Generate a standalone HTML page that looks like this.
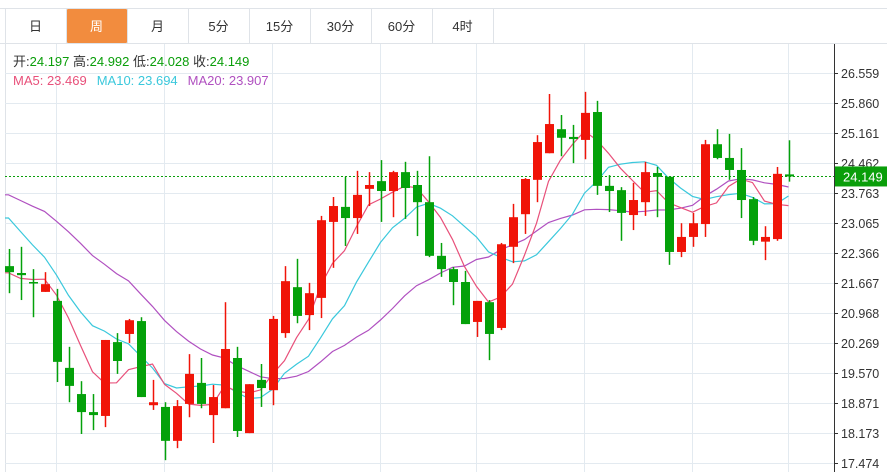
<!DOCTYPE html>
<html><head><meta charset="utf-8">
<style>
html,body{margin:0;padding:0;background:#fff;width:887px;height:472px;overflow:hidden;font-family:"Liberation Sans","Noto Sans CJK SC",sans-serif;}
svg text{font-family:"Liberation Sans","Noto Sans CJK SC",sans-serif;}
</style></head><body>
<svg id="chart" width="887" height="472" xmlns="http://www.w3.org/2000/svg">
  <g id="tabs"></g>
  <g id="grid"></g>
  <g id="mas"></g>
  <g id="candles"></g>
  <g id="axis"></g>
  <g id="legend">
    <text x="13" y="66" font-size="13" fill="#333">开:<tspan fill="#0a9e0a">24.197</tspan>  高:<tspan fill="#0a9e0a">24.992</tspan>  低:<tspan fill="#0a9e0a">24.028</tspan>  收:<tspan fill="#0a9e0a">24.149</tspan></text>
    <text x="13" y="85" font-size="13"><tspan fill="#e8507a">MA5: 23.469</tspan><tspan fill="#3ac8dc" dx="10">MA10: 23.694</tspan><tspan fill="#b050c0" dx="10">MA20: 23.907</tspan></text>
  </g>
</svg>
<script>
const opens=[22.06,21.90,21.69,21.46,21.25,19.69,19.08,18.66,18.57,20.29,20.48,20.78,18.82,18.78,17.99,18.85,19.34,18.59,18.75,19.92,18.17,19.41,19.17,20.50,21.57,20.92,21.32,23.09,23.44,23.18,23.86,24.04,23.81,24.25,23.95,23.55,22.30,21.99,21.69,20.76,21.22,20.62,22.51,23.27,24.07,24.69,25.25,25.07,25.00,25.65,23.93,23.83,23.25,23.55,24.23,24.14,22.39,22.74,23.04,24.90,24.58,24.30,23.62,22.63,22.69,24.197];
const highs=[22.46,22.51,21.99,21.92,21.53,20.18,19.38,19.08,20.34,20.50,20.83,20.87,19.41,18.89,18.94,20.01,19.92,19.29,21.22,20.18,19.31,19.78,20.90,22.06,22.23,21.67,23.23,23.67,24.14,24.28,24.25,24.53,24.28,24.49,24.28,24.62,22.60,22.04,21.95,21.25,21.27,22.60,23.51,24.11,25.11,26.07,25.58,25.35,26.12,25.91,24.18,23.90,24.00,24.49,24.37,24.14,23.06,23.30,25.00,25.25,25.14,24.81,23.67,22.99,24.37,24.992];
const lows=[21.43,21.27,20.87,21.46,19.36,18.89,18.15,18.24,18.31,19.55,20.27,19.01,18.71,17.54,17.82,18.54,18.75,17.94,18.75,18.08,18.17,18.78,18.82,20.39,20.73,20.57,20.85,22.02,22.53,22.81,23.46,23.09,23.20,23.16,22.76,22.27,21.81,21.15,20.71,20.41,19.87,20.57,22.13,22.81,23.55,24.69,24.62,24.46,24.55,23.72,23.32,22.65,22.90,23.23,23.20,22.09,22.27,22.51,22.74,24.55,24.07,23.18,22.55,22.20,22.65,24.028];
const closes=[21.92,21.85,21.67,21.64,19.83,19.27,18.66,18.59,20.34,19.85,20.80,19.01,18.89,17.99,18.80,19.55,18.85,19.01,20.13,18.22,19.31,19.22,20.83,21.71,20.90,21.43,23.13,23.46,23.18,23.72,23.95,23.81,24.25,23.88,23.55,22.30,21.99,21.69,20.71,21.25,20.48,22.57,23.20,24.09,24.95,25.37,25.05,25.02,25.63,23.93,23.81,23.30,23.60,24.25,24.14,22.39,22.74,23.06,24.90,24.58,24.30,23.60,22.65,22.74,24.21,24.149];
const priorCloses=[24.5,24.3,24.1,24.4,24.2,24.0,24.3,24.4,24.2,24.2,25.0,24.8,24.5,24.0,24.0,22.5,21.8,21.6,21.7];
const yTicks=[26.559,25.860,25.161,24.462,23.763,23.065,22.366,21.667,20.968,20.269,19.570,18.871,18.173,17.474];
const tabLabels=["日","周","月","5分","15分","30分","60分","4时"];
const lastPrice=24.149;

const NS="http://www.w3.org/2000/svg";
function el(tag,attrs,parent){const e=document.createElementNS(NS,tag);for(const k in attrs)e.setAttribute(k,attrs[k]);parent.appendChild(e);return e;}
const yTop=26.559,yBot=17.474,pxTop=73,pxBot=463;
function y(v){return pxTop+(yTop-v)/(yTop-yBot)*(pxBot-pxTop);}
function x(i){return 8.5+12*i;}

// tabs
const tabs=document.getElementById('tabs');
el('line',{x1:0,y1:8.5,x2:887,y2:8.5,stroke:'#dfe3e8'},tabs);
el('line',{x1:0,y1:43.5,x2:887,y2:43.5,stroke:'#dfe3e8'},tabs);
tabLabels.forEach((t,i)=>{
  const tx=5+61*i;
  const g=el('g',{},tabs);
  
  
  if(i===1) el('rect',{x:tx+1,y:9,width:60,height:34,fill:'#f28c3e',rx:1},g);
  el('line',{x1:tx+0.5,y1:9,x2:tx+0.5,y2:43,stroke:'#dfe3e8'},g);
  const te=el('text',{x:tx+30.5,y:31,'text-anchor':'middle','font-size':13,fill:i===1?'#fff':'#333'},g);
  te.textContent=t;
});
el('line',{x1:493.5,y1:9,x2:493.5,y2:43,stroke:'#dfe3e8'},tabs);

// grid
const grid=document.getElementById('grid');
el('line',{x1:5.5,y1:44,x2:5.5,y2:472,stroke:'#dfe3e8'},grid);
yTicks.forEach(v=>{const yy=Math.round(y(v))+0.5;el('line',{x1:5,y1:yy,x2:834,y2:yy,stroke:'#e3eaf0'},grid);});
[56,164,272,380,476,584,692,788].forEach(gx=>el('line',{x1:gx+0.5,y1:44,x2:gx+0.5,y2:472,stroke:'#e3eaf0'},grid));

// MAs
const all=priorCloses.concat(closes);
function ma(n){return closes.map((c,i)=>{const j=i+priorCloses.length;let s=0;for(let k=j-n+1;k<=j;k++)s+=all[k];return s/n;});}
const mas=document.getElementById('mas');
[[20,'#b050c0','ma20-line'],[10,'#3ac8dc','ma10-line'],[5,'#e8507a','ma5-line']].forEach(([n,col,name])=>{
  const vals=ma(n);
  const pts=vals.map((v,i)=>x(i).toFixed(1)+','+y(v).toFixed(1));
  pts.unshift('5,'+y(vals[0]).toFixed(1));
  const p=el('polyline',{points:pts.join(' '),fill:'none',stroke:col,'stroke-width':1.2},mas);
  
  
});

// last price line
el('line',{x1:5,y1:y(lastPrice),x2:834,y2:y(lastPrice),stroke:'#0a9e0a','stroke-dasharray':'2,2'},document.getElementById('mas'));

// candles
const cg=document.getElementById('candles');
closes.forEach((c,i)=>{
  const o=opens[i],up=c>=o,col=up?'#f01408':'#04a10a';
  const g=el('g',{},cg);
  
  
  const cx=Math.round(x(i))+0.5;
  el('line',{x1:cx,y1:y(highs[i]),x2:cx,y2:y(lows[i]),stroke:col,'stroke-width':1.5},g);
  const t=y(Math.max(o,c)),b=y(Math.min(o,c));
  el('rect',{x:cx-4.5,y:t,width:9,height:Math.max(b-t,1.5),fill:col},g);
});

// axis
const ax=document.getElementById('axis');
el('line',{x1:834.5,y1:44,x2:834.5,y2:472,stroke:'#333'},ax);
yTicks.forEach(v=>{
  const yy=Math.round(y(v))+0.5;
  el('line',{x1:834,y1:yy,x2:838,y2:yy,stroke:'#333'},ax);
  const t=el('text',{x:841,y:yy+4.5,'font-size':12.5,fill:'#333'},ax);
  t.textContent=v.toFixed(3);
  
  
});
const ly=y(lastPrice);
const lb=el('rect',{x:835,y:ly-10,width:52,height:20,fill:'#0a9e0a'},ax);


const lt=el('text',{x:843,y:ly+5,'font-size':13,fill:'#fff'},ax);
lt.textContent=lastPrice.toFixed(3);


</script>
</body></html>
